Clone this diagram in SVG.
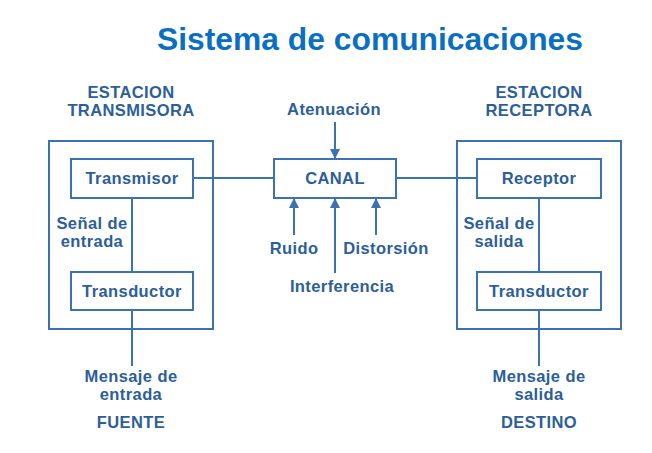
<svg xmlns="http://www.w3.org/2000/svg" width="652" height="453" viewBox="0 0 652 453">
<style>
.t{font-family:"Liberation Sans",Arial,sans-serif;font-weight:bold;font-size:16.5px;letter-spacing:0.4px;fill:#2D5E98;text-anchor:middle}
.ttl{font-family:"Liberation Sans",Arial,sans-serif;font-weight:bold;font-size:31.8px;fill:#0B6FC1;text-anchor:middle}
.b{fill:#fff;stroke:#3D72B0;stroke-width:2}
.l{fill:none;stroke:#3D72B0;stroke-width:2}
</style>
<defs>
<marker id="ah" viewBox="0 0 10 10" refX="10" refY="5" markerWidth="10" markerHeight="10" markerUnits="userSpaceOnUse" orient="auto">
<path d="M0,0 L10,5 L0,10 z" fill="#3D72B0"/>
</marker>
</defs>
<rect width="652" height="453" fill="#fff"/>
<text class="ttl" x="370" y="50">Sistema de comunicaciones</text>
<g id="connectors">
<line class="l" x1="193" y1="178" x2="274" y2="178"/>
<line class="l" x1="396" y1="178" x2="477" y2="178"/>
<line class="l" x1="132" y1="198" x2="132" y2="272"/>
<line class="l" x1="132" y1="310" x2="132" y2="366"/>
<line class="l" x1="539" y1="198" x2="539" y2="272"/>
<line class="l" x1="539" y1="310" x2="539" y2="366"/>
<line class="l" x1="335" y1="122" x2="335" y2="159" marker-end="url(#ah)"/>
<line class="l" x1="294" y1="235" x2="294" y2="198" marker-end="url(#ah)"/>
<line class="l" x1="335" y1="273" x2="335" y2="198" marker-end="url(#ah)"/>
<line class="l" x1="376" y1="235" x2="376" y2="198" marker-end="url(#ah)"/>
</g>
<g id="estacion-transmisora">
<rect class="b" x="49" y="141" width="164" height="188" style="fill:none"/>
<text class="t" x="131" y="98">ESTACION</text>
<text class="t" x="131" y="116">TRANSMISORA</text>
<text class="t" x="92" y="229">Señal de</text>
<text class="t" x="92" y="247">entrada</text>
</g>
<g id="transmisor">
<rect class="b" x="71" y="159" width="122" height="39"/>
<text class="t" x="132" y="184">Transmisor</text>
</g>
<g id="transductor-tx">
<rect class="b" x="71" y="272" width="122" height="38"/>
<text class="t" x="132" y="297">Transductor</text>
</g>
<g id="canal">
<rect class="b" x="274" y="159" width="122" height="39"/>
<text class="t" x="335" y="184">CANAL</text>
</g>
<g id="atenuacion"><text class="t" x="334" y="115">Atenuación</text></g>
<g id="ruido"><text class="t" x="294" y="254">Ruido</text></g>
<g id="distorsion"><text class="t" x="386" y="254">Distorsión</text></g>
<g id="interferencia"><text class="t" x="342" y="292">Interferencia</text></g>
<g id="estacion-receptora">
<rect class="b" x="457" y="141" width="164" height="188" style="fill:none"/>
<text class="t" x="539" y="98">ESTACION</text>
<text class="t" x="539" y="116">RECEPTORA</text>
<text class="t" x="499" y="229">Señal de</text>
<text class="t" x="499" y="247">salida</text>
</g>
<g id="receptor">
<rect class="b" x="477" y="159" width="124" height="39"/>
<text class="t" x="539" y="184">Receptor</text>
</g>
<g id="transductor-rx">
<rect class="b" x="477" y="272" width="124" height="38"/>
<text class="t" x="539" y="297">Transductor</text>
</g>
<g id="fuente">
<text class="t" x="131" y="382">Mensaje de</text>
<text class="t" x="131" y="400">entrada</text>
<text class="t" x="131" y="428">FUENTE</text>
</g>
<g id="destino">
<text class="t" x="539" y="382">Mensaje de</text>
<text class="t" x="539" y="400">salida</text>
<text class="t" x="539" y="428">DESTINO</text>
</g>
</svg>
